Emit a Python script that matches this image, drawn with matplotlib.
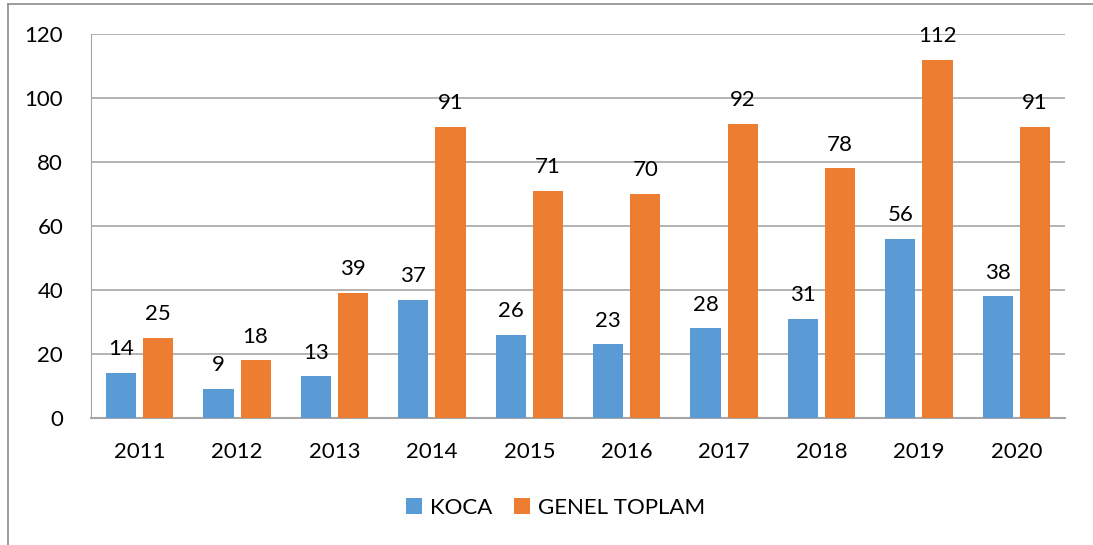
import matplotlib.pyplot as plt
from matplotlib.lines import Line2D
import numpy as np

years = ["2011", "2012", "2013", "2014", "2015", "2016", "2017", "2018", "2019", "2020"]
koca = [14, 9, 13, 37, 26, 23, 28, 31, 56, 38]
genel_toplam = [25, 18, 39, 91, 71, 70, 92, 78, 112, 91]

blue = "#5B9BD5"
orange = "#ED7D31"
grid_col = "#A6A6A6"

plt.rcParams['font.family'] = ['Lato', 'DejaVu Sans']

fig = plt.figure(figsize=(10.93, 5.45), dpi=100)
ax = fig.add_axes([91 / 1093, 1 - 418 / 545, (1065 - 91) / 1093, (418 - 34) / 545])

x = np.arange(len(years))
w = 0.31
b1 = ax.bar(x - 0.19, koca, w, color=blue, label="KOCA", zorder=3)
b2 = ax.bar(x + 0.19, genel_toplam, w, color=orange, label="GENEL TOPLAM", zorder=3)

for bars, vals in ((b1, koca), (b2, genel_toplam)):
    for rect, v in zip(bars, vals):
        ax.annotate(str(v), (rect.get_x() + rect.get_width() / 2, v),
                    xytext=(0, 10), textcoords="offset points",
                    ha="center", va="bottom", fontsize=16, zorder=4)

ax.set_xlim(-0.5, len(years) - 0.5)
ax.set_ylim(0, 120)
ax.set_yticks(range(0, 121, 20))
ax.set_xticks(x)
ax.set_xticklabels(years)
ax.tick_params(axis="both", length=0, labelsize=16)
ax.tick_params(axis="y", pad=20)
ax.tick_params(axis="x", pad=17)
ax.yaxis.grid(True, color=grid_col, linewidth=1.2, zorder=0)
for s in ("top", "right"):
    ax.spines[s].set_visible(False)
ax.spines["left"].set_color(grid_col)
ax.spines["bottom"].set_color(grid_col)
ax.spines["bottom"].set_linewidth(1.5)

ax.legend(loc="center", bbox_to_anchor=(0.5 + 9 / 1093, 1 - 508 / 545), bbox_transform=fig.transFigure,
          ncol=2, frameon=False, fontsize=16, handlelength=0.7, handleheight=0.7,
          columnspacing=1.0, handletextpad=0.35)

# outer chart frame
fx = 8 / 1093
fy = 1 - 4 / 545
fig.add_artist(Line2D([fx, fx], [0, fy], color="#8C8C8C", linewidth=1.2, transform=fig.transFigure))
fig.add_artist(Line2D([fx, 1], [fy, fy], color="#8C8C8C", linewidth=1.2, transform=fig.transFigure))

fig.savefig("out.png", dpi=100)
